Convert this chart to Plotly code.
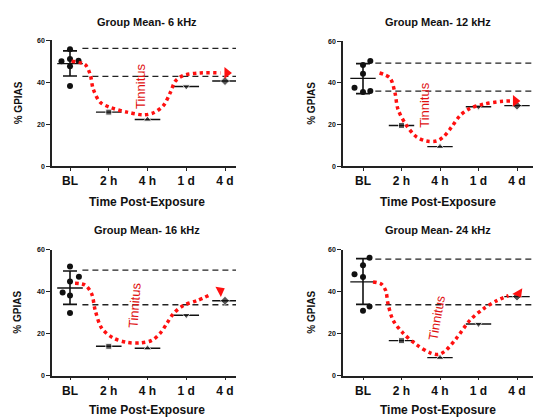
import plotly.graph_objects as go

# ---------------- data ----------------
CATEGORIES = ["BL", "2 h", "4 h", "1 d", "4 d"]
TITLES = ["Group Mean- 6 kHz", "Group Mean- 12 kHz", "Group Mean- 16 kHz", "Group Mean- 24 kHz"]
X_TITLE = "Time Post-Exposure"
Y_TITLE = "% GPIAS"
ANNOT_TEXT = "Tinnitus"
Y_TICKS = [0, 20, 40, 60]

# baseline individual values
BL_6 = [50.0, 55.8, 51.1, 47.7, 50.3, 38.3]
BL_12 = [48.7, 50.6, 44.4, 37.7, 35.7, 36.1]
BL_16 = [39.7, 52.0, 44.9, 47.2, 38.2, 29.9]
BL_24 = [56.2, 52.6, 47.0, 48.3, 33.0, 30.9]

# baseline mean and error bar ends
BL_MEAN = [48.9, 42.2, 41.8, 44.7]
BL_ERR_HI = [55.0, 49.3, 49.9, 55.8]
BL_ERR_LO = [43.0, 34.9, 34.0, 34.0]

# post-exposure group means (2 h, 4 h, 1 d, 4 d)
POST_6 = [25.8, 22.3, 38.0, 40.6]
POST_12 = [19.6, 9.4, 28.6, 29.1]
POST_16 = [14.0, 13.1, 28.8, 35.7]
POST_24 = [16.7, 8.6, 24.6, 37.7]

# dashed reference levels
DASH_6 = [56.2, 42.8]
DASH_12 = [49.5, 36.1]
DASH_16 = [50.3, 33.8]
DASH_24 = [55.6, 33.8]

# hand-drawn red "tinnitus" trend curves; last point = arrow tip
CURVE_X_6 = [0.04, 0.39, 0.52, 0.60, 0.78, 1.03, 1.47, 1.90, 2.16, 2.41, 2.59, 2.72, 2.93, 3.36, 3.88, 4.05]
CURVE_Y_6 = [50.0, 48.4, 43.8, 36.7, 30.5, 28.1, 25.8, 24.5, 25.5, 28.9, 35.2, 40.6, 43.3, 44.5, 44.5, 44.5]
CURVE_X_12 = [0.43, 0.70, 0.83, 0.91, 1.13, 1.39, 1.65, 1.91, 2.09, 2.30, 2.52, 2.78, 3.13, 3.57, 3.83, 3.96]
CURVE_Y_12 = [44.8, 42.4, 35.3, 27.3, 19.6, 14.1, 12.1, 12.1, 14.1, 18.8, 24.3, 27.8, 29.8, 31.1, 31.4, 31.4]
CURVE_X_16 = [0.13, 0.39, 0.56, 0.65, 0.82, 1.12, 1.47, 1.81, 2.11, 2.33, 2.50, 2.67, 2.93, 3.28, 3.62, 3.88]
CURVE_Y_16 = [44.1, 43.2, 39.0, 31.2, 22.6, 17.9, 15.9, 15.6, 16.8, 20.3, 24.9, 29.6, 33.5, 35.8, 38.6, 40.5]
CURVE_X_24 = [0.26, 0.48, 0.59, 0.65, 0.78, 1.04, 1.39, 1.74, 1.96, 2.13, 2.43, 2.78, 3.13, 3.48, 3.78, 4.04]
CURVE_Y_24 = [44.7, 43.6, 40.5, 34.3, 26.5, 20.3, 14.8, 10.9, 10.1, 11.7, 17.9, 26.5, 31.9, 35.8, 38.2, 39.3]

# ---------------- style / layout ----------------
W, H = 533, 418
FONT = "Liberation Sans, Arial, sans-serif"
BL_JITTER = [[-0.22, 0, 0, 0, 0.22, 0], [0, 0.19, 0, -0.22, 0, 0.19],
             [-0.19, 0, 0, 0.23, 0, 0], [0.17, 0, 0, -0.22, 0.17, 0]]
POST_SYMBOLS = ["square", "triangle-up", "triangle-down", "diamond"]
MEAN_HALF = 0.33
ARROW_ANGLE = [90, 90, 62, 150]

PANELS = [
    dict(x0=52, x1=236, yt=37, yb=165, c0=70, dc=38.75, tx=147, ty=18, xty=201, ytx=18, txt=(1.82, 38.0, -90)),
    dict(x0=343, x1=533, yt=38, yb=165, c0=363, dc=38.5, tx=438, ty=18, xty=201, ytx=312, txt=(1.61, 29.5, -90)),
    dict(x0=52, x1=236, yt=250, yb=378, c0=70, dc=38.75, tx=147, ty=230, xty=413, ytx=18, txt=(1.68, 33.7, -86)),
    dict(x0=343, x1=533, yt=250, yb=378, c0=363, dc=38.5, tx=438, ty=230, xty=413, ytx=312, txt=(1.92, 27.7, -80)),
]

BL_ALL = [BL_6, BL_12, BL_16, BL_24]
POST_ALL = [POST_6, POST_12, POST_16, POST_24]
DASH_ALL = [DASH_6, DASH_12, DASH_16, DASH_24]
CURVES = [(CURVE_X_6, CURVE_Y_6), (CURVE_X_12, CURVE_Y_12), (CURVE_X_16, CURVE_Y_16), (CURVE_X_24, CURVE_Y_24)]

fig = go.Figure()
annotations = []
layout_axes = {}

for i, p in enumerate(PANELS):
    n = "" if i == 0 else str(i + 1)
    xa, ya = "x" + n, "y" + n
    xmin = (p["x0"] - p["c0"]) / p["dc"]
    xmax = (p["x1"] - p["c0"]) / p["dc"]

    layout_axes["xaxis" + n] = dict(
        domain=[p["x0"] / W, p["x1"] / W], range=[xmin, xmax], anchor=ya,
        tickvals=list(range(len(CATEGORIES))), ticktext=CATEGORIES,
        ticks="outside", ticklen=3, tickwidth=1.3, tickcolor="#222",
        showline=True, linecolor="#222", linewidth=1.5, showgrid=False, zeroline=False,
        tickfont=dict(family=FONT, size=12, color="#111", weight="bold"),
        fixedrange=True,
    )
    layout_axes["yaxis" + n] = dict(
        domain=[1 - p["yb"] / H, 1 - p["yt"] / H], range=[0, 60], anchor=xa,
        tickvals=Y_TICKS, ticks="outside", ticklen=4, tickwidth=1.3, tickcolor="#222",
        showline=True, linecolor="#222", linewidth=1.5, showgrid=False, zeroline=False,
        tickfont=dict(family=FONT, size=7, color="#111", weight="bold"),
        fixedrange=True,
    )

    # dashed reference lines
    for v in DASH_ALL[i]:
        fig.add_trace(go.Scatter(
            x=[0.32, xmax], y=[v, v], xaxis=xa, yaxis=ya, mode="lines",
            line=dict(color="#222", width=1.3, dash="6px,4px"),
            hoverinfo="skip", showlegend=False))

    # baseline individual points
    bl = BL_ALL[i]
    fig.add_trace(go.Scatter(
        x=[BL_JITTER[i][k] for k in range(len(bl))], y=bl, xaxis=xa, yaxis=ya, mode="markers",
        marker=dict(symbol="circle", size=6, color="#111"),
        showlegend=False))

    # baseline mean line + error bar
    fig.add_trace(go.Scatter(
        x=[0], y=[BL_MEAN[i]], xaxis=xa, yaxis=ya, mode="markers",
        marker=dict(size=2, color="rgba(0,0,0,0)"),
        error_y=dict(type="data", symmetric=False,
                     array=[BL_ERR_HI[i] - BL_MEAN[i]], arrayminus=[BL_MEAN[i] - BL_ERR_LO[i]],
                     color="#111", thickness=1.6, width=7),
        error_x=dict(type="constant", value=MEAN_HALF, color="#111", thickness=1.4, width=0),
        showlegend=False))

    # post-exposure means
    post = POST_ALL[i]
    fig.add_trace(go.Scatter(
        x=list(range(1, len(post) + 1)), y=post, xaxis=xa, yaxis=ya, mode="markers",
        marker=dict(symbol=POST_SYMBOLS, size=[6, 7, 7, 7], color="#111"),
        error_x=dict(type="constant", value=MEAN_HALF, color="#111", thickness=1.4, width=0),
        showlegend=False))

    # red dotted trend curve (on top)
    cx, cy = CURVES[i]
    fig.add_trace(go.Scatter(
        x=cx[:-1], y=cy[:-1], xaxis=xa, yaxis=ya, mode="lines",
        line=dict(color="#ff1010", width=3.5, dash="3.4px,3.4px", shape="spline", smoothing=0.9),
        hoverinfo="skip", showlegend=False))
    fig.add_trace(go.Scatter(
        x=cx[-1:], y=cy[-1:], xaxis=xa, yaxis=ya, mode="markers",
        marker=dict(symbol="triangle-up", size=10, color="#ff1010", angle=ARROW_ANGLE[i],
                    line=dict(width=0)),
        hoverinfo="skip", showlegend=False))

    # texts
    annotations.append(dict(text=TITLES[i], xref="paper", yref="paper", x=p["tx"] / W, y=1 - p["ty"] / H,
                            xanchor="center", yanchor="middle", showarrow=False,
                            font=dict(family=FONT, size=11, color="#111", weight="bold")))
    annotations.append(dict(text=X_TITLE, xref="paper", yref="paper", x=p["tx"] / W, y=1 - p["xty"] / H,
                            xanchor="center", yanchor="middle", showarrow=False,
                            font=dict(family=FONT, size=12, color="#111", weight="bold")))
    annotations.append(dict(text=Y_TITLE, xref="paper", yref="paper", x=p["ytx"] / W,
                            y=1 - (p["yt"] + p["yb"]) / 2 / H,
                            xanchor="center", yanchor="middle", textangle=-90, showarrow=False,
                            font=dict(family=FONT, size=10, color="#111", weight="bold")))
    tx, ty, ta = p["txt"]
    annotations.append(dict(text=ANNOT_TEXT, xref=xa, yref=ya, x=tx, y=ty,
                            xanchor="center", yanchor="middle", textangle=ta, showarrow=False,
                            font=dict(family=FONT, size=13, color="#e01010")))

fig.update_layout(
    width=W, height=H, margin=dict(l=0, r=0, t=0, b=0),
    paper_bgcolor="white", plot_bgcolor="white",
    annotations=annotations, showlegend=False, hovermode=False,
    **layout_axes,
)

fig.write_html("out.html", config=dict(displayModeBar=False),
               post_script="document.body.style.margin='0';document.body.style.overflow='hidden';")
